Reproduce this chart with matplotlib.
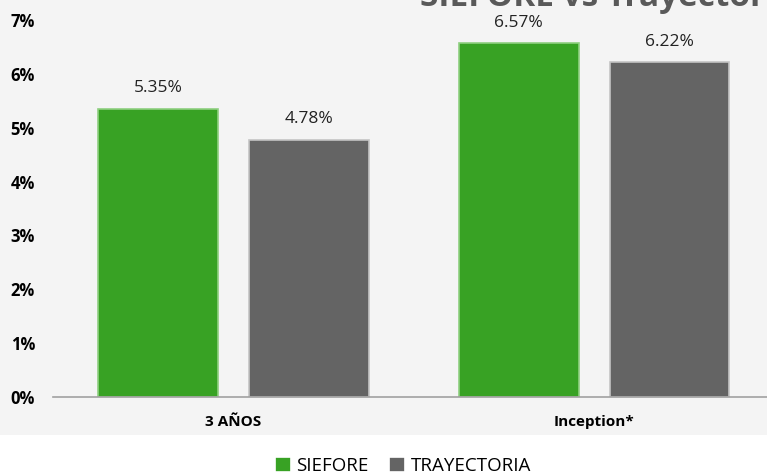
import matplotlib.pyplot as plt
import numpy as np
from matplotlib.patches import Rectangle

categories = ['3 AÑOS', 'Inception*']
siefore = [5.35, 6.57]
trayectoria = [4.78, 6.22]
series_names = ['SIEFORE', 'TRAYECTORIA']
yticks = [0, 1, 2, 3, 4, 5, 6, 7]

green = '#38a224'
grey = '#646464'
bg = '#f4f4f4'

W, H = 767, 474
fig = plt.figure(figsize=(W / 100, H / 100), dpi=100, facecolor=bg)
# white strip at the bottom (legend area)
fig.patches.append(Rectangle((0, 0), 1, 1 - 435 / H, transform=fig.transFigure,
                             facecolor='white', edgecolor='none', zorder=0))

ax = fig.add_axes([53 / W, 1 - 397 / H, 1 - 53 / W, (397 - 20) / H])
ax.set_facecolor(bg)

x = np.arange(len(categories))
off, w = 0.209, 0.332
b1 = ax.bar(x - off, siefore, w, color=green, edgecolor='#8fcf80', linewidth=1.2,
            label=series_names[0])
b2 = ax.bar(x + off, trayectoria, w, color=grey, edgecolor='#c4c4c4', linewidth=1.2,
            label=series_names[1])

for bars, vals in [(b1, siefore), (b2, trayectoria)]:
    for r, v in zip(bars, vals):
        ax.annotate(f'{v:.2f}%', (r.get_x() + r.get_width() / 2, v),
                    xytext=(0, 9), textcoords='offset points', ha='center',
                    va='bottom', fontsize=12.5, color='#222222', family='Open Sans')

ax.set_xlim(-0.5, (W - 233) / 361)
ax.set_ylim(0, 7)
ax.set_yticks(yticks)
ax.set_yticklabels([f'{t}%' for t in yticks], fontsize=12, fontweight='bold',
                   family='Open Sans')
ax.set_xticks(x)
ax.set_xticklabels(categories, fontsize=11, fontweight='bold', family='Open Sans')
ax.tick_params(length=0)
ax.tick_params(axis='x', pad=13)
ax.tick_params(axis='y', pad=13)
for s in ['top', 'right', 'left']:
    ax.spines[s].set_visible(False)
ax.spines['bottom'].set_color('#a0a0a0')
ax.spines['bottom'].set_linewidth(1.2)

# title, cut off by the top edge
fig.text(420 / W, 1 - 6 / H, 'SIEFORE vs Trayectoria', fontsize=24, fontweight='bold',
         color='#595959', family='Open Sans', va='baseline', ha='left')

leg = fig.legend(handles=[b1, b2], loc='center', bbox_to_anchor=(403 / W, 1 - 466 / H),
                 ncol=2, frameon=False, handlelength=0.85, handleheight=0.85,
                 handletextpad=0.3, columnspacing=1.1, prop={'family': 'Open Sans', 'size': 13.5})
for h in leg.legend_handles:
    h.set_edgecolor('white')

fig.savefig('out.png', dpi=100, facecolor=bg)
